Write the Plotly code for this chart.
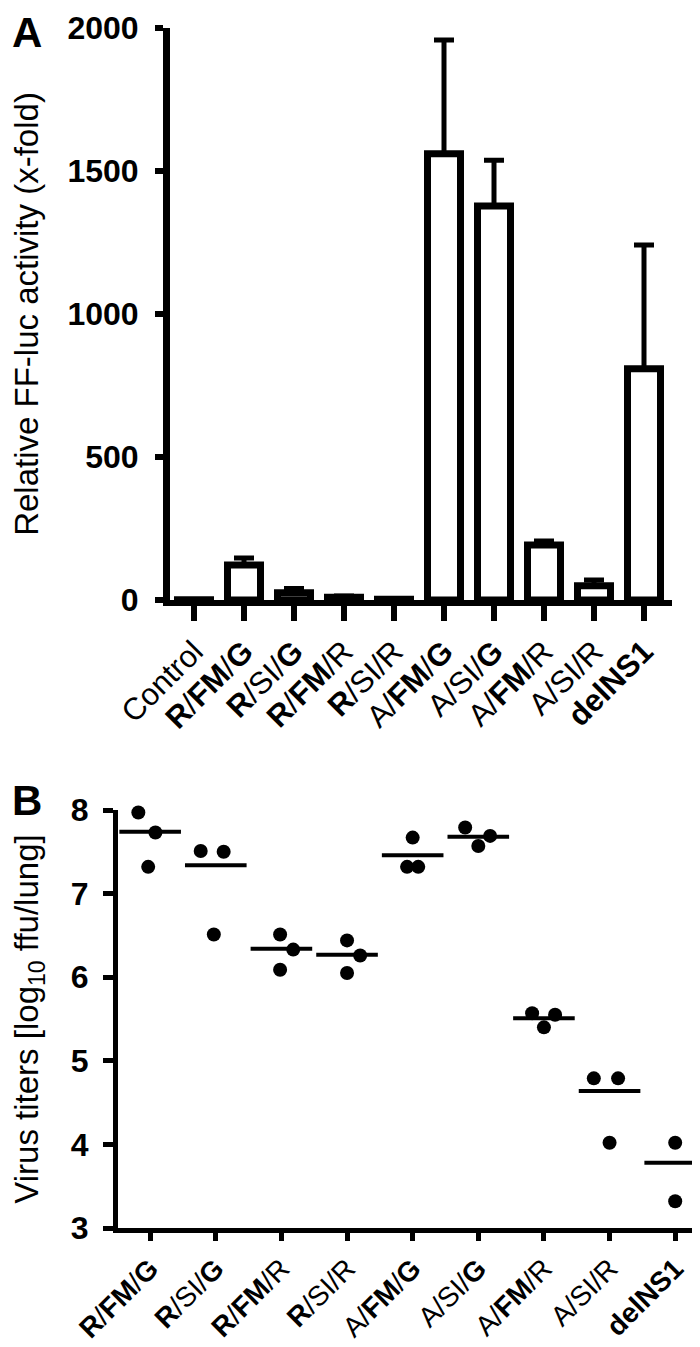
import plotly.graph_objects as go

# panel A: relative FF-luc activity
a_groups = ["Control", "<b>R</b>/<b>FM</b>/<b>G</b>", "<b>R</b>/SI/<b>G</b>", "<b>R</b>/<b>FM</b>/R",
            "<b>R</b>/SI/R", "A/<b>FM</b>/<b>G</b>", "A/SI/<b>G</b>", "A/<b>FM</b>/R", "A/SI/R", "<b>delNS1</b>"]
a_values = [1, 122, 25, 10, 3, 1560, 1378, 192, 50, 809]
a_errors = [0, 25, 15, 4, 1, 398, 160, 14, 20, 432]
a_ticks = [0, 500, 1000, 1500, 2000]

# panel B: virus titers in lung
b_groups = a_groups[1:]
b_values = [[7.97, 7.73, 7.32], [7.51, 7.50, 6.51], [6.51, 6.33, 6.09], [6.44, 6.26, 6.05],
            [7.67, 7.32, 7.32], [7.79, 7.57, 7.69], [5.57, 5.55, 5.40], [4.79, 4.79, 4.02],
            [4.02, 3.32]]
b_jitter = [[-0.18, 0.08, -0.03], [-0.23, 0.12, -0.03], [-0.02, 0.18, -0.02], [0, 0.2, 0],
            [0, -0.085, 0.085], [-0.2, 0, 0.18], [-0.18, 0.17, 0], [-0.24, 0.13, 0], [0, 0]]
b_means = [7.74, 7.34, 6.34, 6.27, 7.46, 7.68, 5.51, 4.64, 3.78]
b_ticks = [3, 4, 5, 6, 7, 8]

FONT = "Liberation Sans, Arial, sans-serif"
W, H = 700, 1347

fig = go.Figure()

fig.add_trace(go.Bar(
    x=list(range(len(a_groups))), y=a_values, width=0.66,
    marker=dict(color="white", line=dict(color="black", width=7)),
    error_y=dict(type="data", symmetric=False, array=a_errors, arrayminus=[0]*len(a_errors),
                 color="black", thickness=5, width=10),
    xaxis="x", yaxis="y", showlegend=False))

px, py = [], []
for i, (vals, jit) in enumerate(zip(b_values, b_jitter)):
    for v, j in zip(vals, jit):
        px.append(i + j)
        py.append(v)
fig.add_trace(go.Scatter(x=px, y=py, mode="markers", cliponaxis=False,
                         marker=dict(color="black", size=14),
                         xaxis="x2", yaxis="y2", showlegend=False))
fig.add_trace(go.Scatter(x=list(range(len(b_groups))), y=b_means, mode="markers", cliponaxis=False,
                         marker=dict(symbol="line-ew", size=44, line=dict(color="black", width=4)),
                         xaxis="x2", yaxis="y2", showlegend=False))

def ax(**kw):
    d = dict(showgrid=False, zeroline=False, showline=True, linecolor="black",
             ticks="outside", tickcolor="black", automargin=False)
    d.update(kw)
    return d

fig.update_layout(
    width=W, height=H, autosize=False,
    margin=dict(l=0, r=0, t=0, b=0),
    paper_bgcolor="white", plot_bgcolor="white",
    font=dict(family=FONT, color="black"),
    xaxis=ax(domain=[162/W, 664/W], range=[-0.48, 9.56], anchor="y",
             linewidth=6, tickwidth=6, ticklen=15,
             tickvals=list(range(len(a_groups))), ticktext=a_groups, tickangle=-45,
             tickfont=dict(size=31, family=FONT)),
    yaxis=ax(domain=[1 - 592/H, 1 - 20/H], range=[0, 2000], anchor="x",
             linewidth=7, tickwidth=6, ticklen=8, ticklabelstandoff=10,
             tickvals=a_ticks, tickfont=dict(size=32, family=FONT, weight="bold"),
             title=dict(text="Relative FF-luc activity (x-fold)", standoff=22,
                        font=dict(size=33, family=FONT))),
    xaxis2=ax(domain=[110/W, 1.0], range=[-0.49, 8.5], anchor="y2",
              linewidth=5, tickwidth=5, ticklen=8,
              tickvals=list(range(len(b_groups))), ticktext=b_groups, tickangle=-45,
              tickfont=dict(size=28, family=FONT)),
    yaxis2=ax(domain=[1 - 1220/H, 1 - 802/H], range=[3, 8], anchor="x2",
              linewidth=5, tickwidth=5, ticklen=10, ticklabelstandoff=8,
              tickvals=b_ticks, tickfont=dict(size=32, family=FONT, weight="bold"),
              title=dict(text="Virus titers [log<sub>10</sub> ffu/lung]", standoff=24,
                         font=dict(size=33, family=FONT))),
    annotations=[
        dict(text="<b>A</b>", x=2/W, y=1 - 24/H, xref="paper", yref="paper", xanchor="left",
             yanchor="middle", showarrow=False, font=dict(size=42, family=FONT)),
        dict(text="<b>B</b>", x=2/W, y=1 - 792/H, xref="paper", yref="paper", xanchor="left",
             yanchor="middle", showarrow=False, font=dict(size=42, family=FONT)),
    ],
)

fig.write_html("out.html")
